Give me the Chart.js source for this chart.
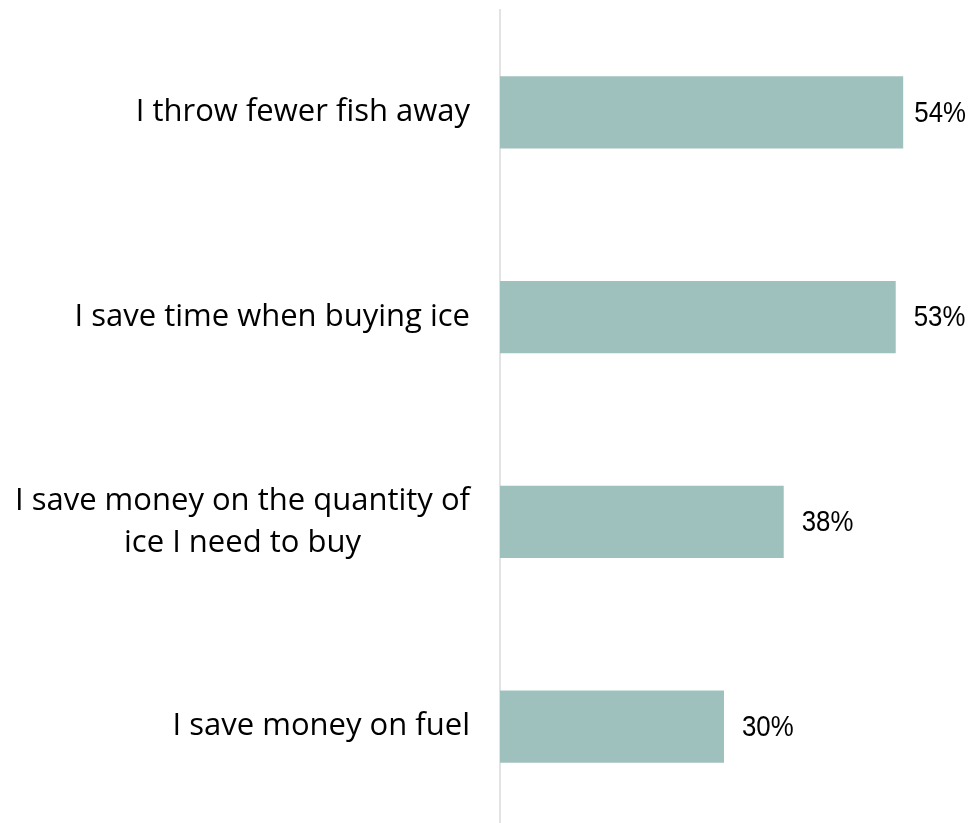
<!DOCTYPE html>
<html>
<head>
<meta charset="utf-8">
<script src="https://cdn.jsdelivr.net/npm/chart.js@4.4.1/dist/chart.umd.min.js"></script>
<style>
    body { margin: 0; background: #ffffff; overflow: hidden; }
    .graph_wpr { width: 970px; height: 829px; }
</style>
</head>
<body>
<div class="graph_wpr">
    <canvas id="Chart0" width="970" height="829"></canvas>
</div>
<script>
const labels = [
    ["I throw fewer fish away"],
    ["I save time when buying ice"],
    ["I save money on the quantity of", "ice I need to buy"],
    ["I save money on fuel"]
]
const values = [54, 53, 38, 30]

const barColor = "rgb(159,193,189)"
const labelFont = "31px 'Open Sans', sans-serif"
const valueFont = "30px 'Liberation Sans', Arial, sans-serif"
const valueSqueeze = 0.86 // narrow look for the percentages

// category names on the left: each label block right aligned, its lines centred
const catLabels = {
    id: 'catLabels',
    afterDraw(chart) {
        const ctx = chart.ctx
        const yScale = chart.scales.y
        const right = chart.chartArea.left - 30
        const lineH = 42
        ctx.save()
        ctx.font = labelFont
        ctx.fillStyle = "#000000"
        ctx.textAlign = "center"
        ctx.textBaseline = "middle"
        labels.forEach((lines, i) => {
            let w = 0
            lines.forEach(l => { w = Math.max(w, ctx.measureText(l).width) })
            const cy = yScale.getPixelForValue(i)
            const y0 = cy - (lines.length - 1) * lineH / 2
            lines.forEach((l, j) => {
                ctx.fillText(l, right - w / 2, y0 + j * lineH)
            })
        })
        ctx.restore()
    }
}

// percentage at the end of each bar, pulled back in if it would run off the edge
const valueLabels = {
    id: 'valueLabels',
    afterDatasetsDraw(chart) {
        const ctx = chart.ctx
        const meta = chart.getDatasetMeta(0)
        ctx.save()
        ctx.font = valueFont
        ctx.fillStyle = "#000000"
        ctx.textAlign = "left"
        ctx.textBaseline = "middle"
        ctx.scale(valueSqueeze, 1)
        meta.data.forEach((bar, i) => {
            const txt = `${values[i]}%`
            const w = ctx.measureText(txt).width * valueSqueeze
            const x = Math.min(bar.x + 18, chart.width - 4 - w)
            ctx.fillText(txt, x / valueSqueeze, bar.y + 1)
        })
        ctx.restore()
    }
}

const data = {
    labels: labels,
    datasets: [{
        data: values,
        backgroundColor: barColor,
        borderWidth: 0,
        barPercentage: 0.352,
        categoryPercentage: 1
    }]
}

const config = {
    type: 'bar',
    data: data,
    options: {
        indexAxis: 'y',
        responsive: false,
        animation: false,
        devicePixelRatio: 1,
        layout: { padding: { top: 10, right: 22, left: 0, bottom: 0 } },
        plugins: {
            legend: { display: false },
            tooltip: { enabled: false }
        },
        scales: {
            x: {
                display: false,
                min: 0,
                max: 60
            },
            y: {
                ticks: { display: false },
                grid: { display: false },
                border: { display: true, color: "#e3e3e3", width: 2 },
                afterFit: (scale) => { scale.width = 500 }
            }
        }
    },
    plugins: [catLabels, valueLabels]
}

const graph = document.getElementById("Chart0")
new Chart(graph, config)
</script>
</body>
</html>
